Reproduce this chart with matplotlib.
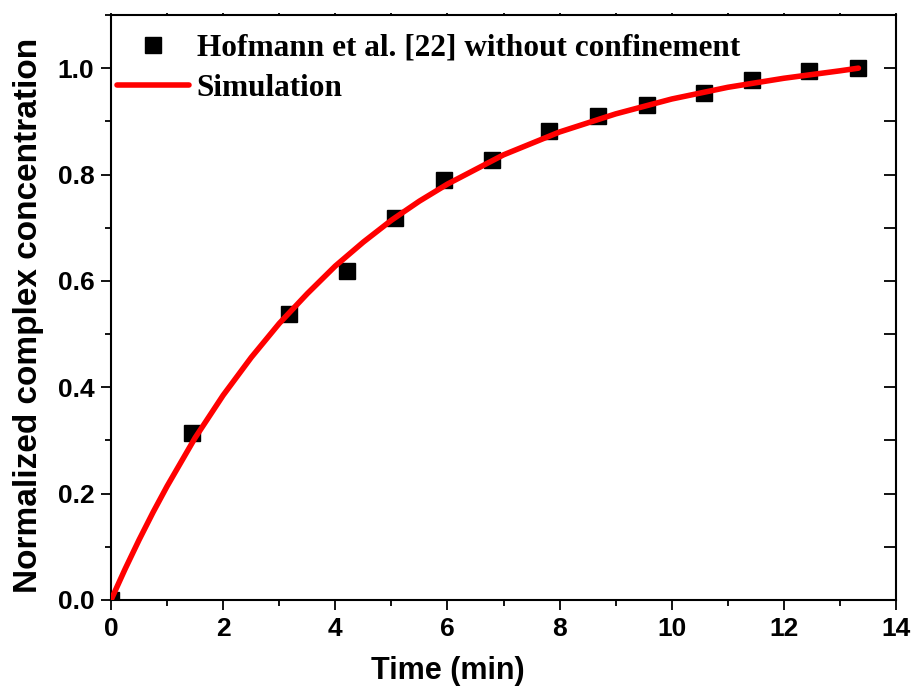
import numpy as np
import matplotlib
matplotlib.use("Agg")
import matplotlib.pyplot as plt
from matplotlib.ticker import MultipleLocator, FormatStrFormatter

# experimental points (Hofmann et al.)
exp_t = [0.0, 1.44, 3.18, 4.20, 5.06, 5.94, 6.79, 7.81, 8.69, 9.55, 10.58, 11.44, 12.45, 13.33]
exp_c = [0.0, 0.314, 0.538, 0.619, 0.718, 0.789, 0.828, 0.882, 0.910, 0.931, 0.954, 0.978, 0.995, 1.0]

# simulation curve
sim_t = [0.0, 0.25, 0.5, 0.75, 1.0, 1.5, 2.0, 2.5, 3.0, 3.5, 4.0, 4.5, 5.0, 5.5, 6.0, 7.0,
         8.0, 9.0, 10.0, 11.0, 12.0, 13.0, 13.33]
sim_c = [0.0, 0.058, 0.113, 0.165, 0.214, 0.305, 0.385, 0.456, 0.520, 0.576, 0.628, 0.673,
         0.714, 0.750, 0.782, 0.837, 0.880, 0.914, 0.942, 0.964, 0.981, 0.995, 1.0]

fig = plt.figure(figsize=(9.13, 6.93), dpi=100)
ax = fig.add_axes([0.1216, 0.1342, 0.8598, 0.8442])

ax.plot(exp_t, exp_c, 's', color='black', markersize=12, zorder=2,
        label='Hofmann et al. [22] without confinement')
ax.plot(sim_t, sim_c, '-', color='#ff0000', linewidth=4, zorder=3,
        solid_capstyle='round', label='Simulation')

ax.set_xlim(0, 14)
ax.set_ylim(0, 1.10)

ax.xaxis.set_major_locator(MultipleLocator(2))
ax.xaxis.set_minor_locator(MultipleLocator(1))
ax.yaxis.set_major_locator(MultipleLocator(0.2))
ax.yaxis.set_minor_locator(MultipleLocator(0.1))
ax.yaxis.set_major_formatter(FormatStrFormatter('%.1f'))

for s in ax.spines.values():
    s.set_linewidth(1.5)

# left / bottom: outward ticks with labels
ax.tick_params(which='major', direction='out', length=7, width=1.3,
               labelsize=19, pad=5)
ax.tick_params(which='minor', direction='out', length=4.5, width=1.3)
# right: inward ticks every 0.1, no labels
ax.tick_params(axis='y', which='both', right=True, labelright=False)
for t in ax.yaxis.get_major_ticks() + ax.yaxis.get_minor_ticks():
    t.tick2line.set_marker(matplotlib.lines.TICKLEFT)
    t.tick2line.set_markersize(9)
# top: tiny ticks every 1
ax.tick_params(axis='x', which='both', top=True, labeltop=False)
for t in ax.xaxis.get_major_ticks() + ax.xaxis.get_minor_ticks():
    t.tick2line.set_markersize(1.5)

for lab in ax.get_xticklabels() + ax.get_yticklabels():
    lab.set_fontfamily('Liberation Sans')
    lab.set_fontweight('bold')

ax.set_xlabel('Time (min)', fontsize=22, fontweight='bold',
              fontfamily='Liberation Sans')
ax.xaxis.set_label_coords(0.429, -0.095)
ax.set_ylabel('Normalized complex concentration', fontsize=24, fontweight='bold',
              fontfamily='Liberation Sans')
ax.yaxis.set_label_coords(-0.086, 0.487)

leg = ax.legend(loc='upper left', bbox_to_anchor=(0.0076, 0.968), frameon=False,
                prop={'family': 'Liberation Serif', 'weight': 'bold', 'size': 22.5},
                handlelength=2.3, handletextpad=0.25, labelspacing=0.35,
                borderpad=0, borderaxespad=0, markerscale=1.0)

fig.savefig('out.png', dpi=100)
